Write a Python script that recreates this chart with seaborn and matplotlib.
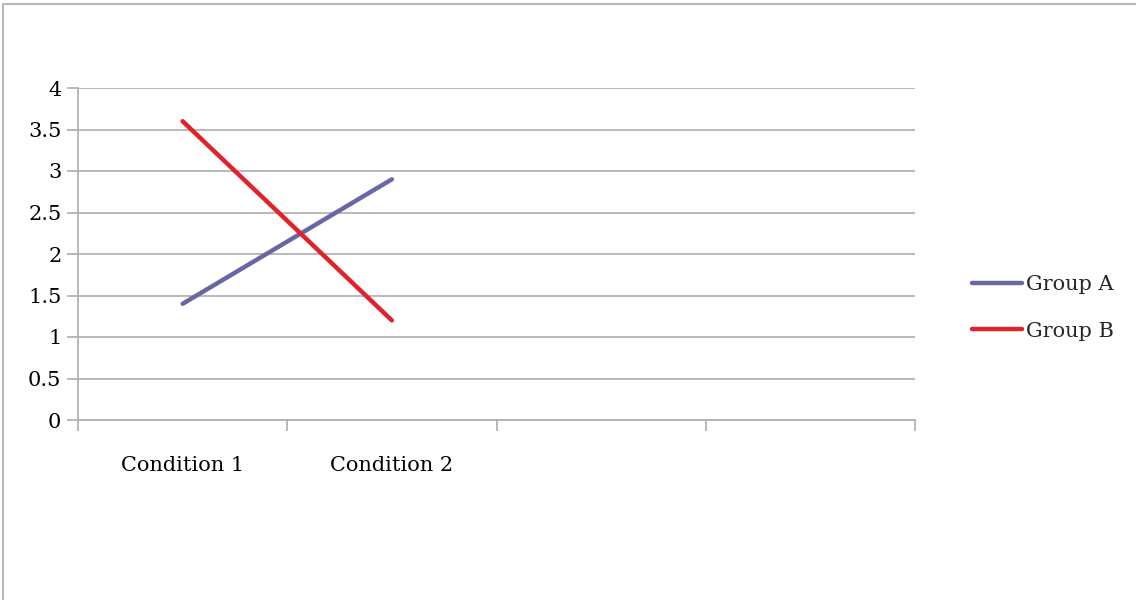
import matplotlib
matplotlib.use("Agg")
import matplotlib.pyplot as plt
import seaborn as sns
import pandas as pd
import numpy as np
from matplotlib.lines import Line2D

categories = ["Condition 1", "Condition 2", "", ""]
group_a = [1.4, 2.9]
group_b = [3.6, 1.2]
series_names = ["Group A", "Group B"]
y_ticks = [0, 0.5, 1, 1.5, 2, 2.5, 3, 3.5, 4]
y_tick_labels = ["0", "0.5", "1", "1.5", "2", "2.5", "3", "3.5", "4"]

sns.set_theme(style="white")
plt.rcParams['font.family'] = ['DejaVu Serif', 'DejaVu Sans']

df = pd.DataFrame({
    "pos": list(range(len(group_a))) * 2,
    "value": group_a + group_b,
    "group": [series_names[0]] * len(group_a) + [series_names[1]] * len(group_b),
})

fig = plt.figure(figsize=(11.36, 6), dpi=100)
ax = fig.add_axes([78/1136, 1 - 420/600, (915-78)/1136, (420-88)/600])

palette = {"Group A": "#6767A6", "Group B": "#E0222C"}
sns.lineplot(data=df, x="pos", y="value", hue="group", palette=palette,
             linewidth=3.2, ax=ax, legend=False, solid_capstyle="round")

FS = 15
ax.set_xlim(-0.5, len(categories) - 0.5)
ax.set_ylim(0, 4)
ax.set_yticks(y_ticks)
ax.set_yticklabels(y_tick_labels)
ax.yaxis.grid(True, color="#B3B3B3", linewidth=1.3)
ax.set_axisbelow(True)

ax.set_xticks(np.arange(len(categories)))
ax.set_xticklabels(categories)
ax.set_xticks(np.arange(len(categories) + 1) - 0.5, minor=True)
ax.tick_params(axis="x", which="major", length=0, pad=26, labelsize=FS, colors="#000000")
ax.tick_params(axis="x", which="minor", length=8, width=1.3, color="#B3B3B3", direction="out", bottom=True)
ax.tick_params(axis="y", which="major", length=8, width=1.3, color="#B3B3B3", direction="out", left=True,
               labelsize=FS, pad=4, labelcolor="#000000")
ax.set_xlabel("")
ax.set_ylabel("")

for side in ["top", "right"]:
    ax.spines[side].set_visible(False)
for side in ["left", "bottom"]:
    ax.spines[side].set_color("#B3B3B3")
    ax.spines[side].set_linewidth(1.3)

handles = [Line2D([0], [0], color=palette[n], linewidth=3.2, solid_capstyle="round") for n in series_names]
fig.legend(handles, series_names, loc="center left", bbox_to_anchor=(972/1136, 1 - 308/600),
           frameon=False, fontsize=FS, handlelength=2.4, handletextpad=0.2, labelspacing=1.3,
           borderpad=0, borderaxespad=0)

# outer frame (top and left edges visible)
fig.add_artist(Line2D([3/1136, 3/1136], [0, 1 - 4/600], transform=fig.transFigure, color="#B8B8B8", linewidth=1.5))
fig.add_artist(Line2D([3/1136, 1], [1 - 4/600, 1 - 4/600], transform=fig.transFigure, color="#B8B8B8", linewidth=1.5))

fig.savefig("out.png", dpi=100)
